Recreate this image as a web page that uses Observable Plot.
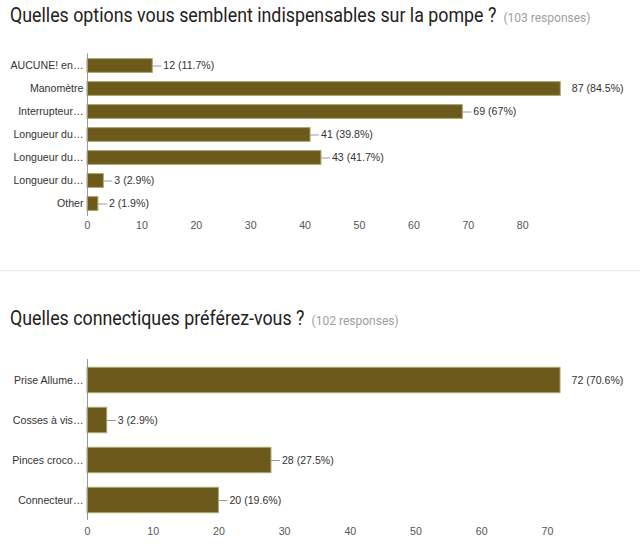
<!DOCTYPE html>
<html>
<head>
<meta charset="utf-8">
<script src="https://cdn.jsdelivr.net/npm/d3@7"></script>
<script src="https://cdn.jsdelivr.net/npm/@observablehq/plot@0.6"></script>
<style>
  html, body { margin: 0; padding: 0; background: #fff; }
  #page { position: relative; width: 640px; height: 544px; overflow: hidden; }
  .title { position: absolute; left: 10px; font-family: Roboto, "Noto Sans", sans-serif; font-size: 20px; color: #212121; white-space: nowrap; line-height: 24px; transform: scaleX(0.89); transform-origin: 0 0; }
  .title small { font-size: 13.5px; color: #9e9e9e; margin-left: 8px; }
  .sep { position: absolute; left: 0; width: 640px; top: 270px; height: 1px; background: #ececec; box-shadow: 0 1px 2px #f3f3f3; }
  .chart { position: absolute; left: 0; }
</style>
</head>
<body>
<div id="page">
  <div class="title" id="t1" style="top:3px">Quelles options vous semblent indispensables sur la pompe ?<small>(103 responses)</small></div>
  <div class="chart" id="c1" style="top:40px"></div>
  <div class="sep"></div>
  <div class="title" id="t2" style="top:306px">Quelles connectiques préférez-vous ?<small>(102 responses)</small></div>
  <div class="chart" id="c2" style="top:340px"></div>
</div>
<script>
// Chart 1 data
const cats1 = ["AUCUNE! en…", "Manomètre", "Interrupteur…", "Longueur du…", "Longueur du…", "Longueur du…", "Other"];
const counts1 = [12, 87, 69, 41, 43, 3, 2];
const pcts1 = ["11.7%", "84.5%", "67%", "39.8%", "41.7%", "2.9%", "1.9%"];
const ticks1 = [0, 10, 20, 30, 40, 50, 60, 70, 80];

// Chart 2 data
const cats2 = ["Prise Allume…", "Cosses à vis…", "Pinces croco…", "Connecteur…"];
const counts2 = [72, 3, 28, 20];
const pcts2 = ["70.6%", "2.9%", "27.5%", "19.6%"];
const ticks2 = [0, 10, 20, 30, 40, 50, 60, 70];

const FONT = "Arial, 'Liberation Sans', sans-serif";
const FS = 10.6;

function chart(cats, counts, pcts, ticks, o) {
  const data = cats.map((c, i) => ({i, c, v: counts[i], p: pcts[i]}));
  const max = d3.max(counts);
  const marginLeft = 87;
  const k = (640 - marginLeft - o.marginRight) / o.domainMax; // px per unit
  const others = data.filter(d => d.v !== max);
  const tops = data.filter(d => d.v === max);
  const label = d => `${d.v} (${d.p})`;
  return Plot.plot({
    width: 640,
    height: o.height,
    marginLeft,
    marginRight: o.marginRight,
    marginTop: o.marginTop,
    marginBottom: o.marginBottom,
    style: {fontFamily: FONT, fontSize: FS + "px", background: "transparent", overflow: "visible"},
    x: {domain: [0, o.domainMax]},
    y: {domain: d3.range(cats.length), padding: 0},
    marks: [
      Plot.barX(data, {x: "v", y: "i", fill: "#6b5a1c", stroke: "#b0a46a", strokeWidth: 1,
        insetTop: o.inset, insetBottom: o.inset}),
      Plot.ruleY(others, {y: "i", x1: "v", x2: d => d.v + 9 / k, stroke: "#999", strokeWidth: 1}),
      Plot.text(others, {x: "v", y: "i", text: label, textAnchor: "start", dx: 10.5, fill: "#333", fontSize: FS}),
      Plot.text(tops, {x: "v", y: "i", text: label, textAnchor: "start", dx: 11, fill: "#333", fontSize: FS}),
      Plot.ruleX([0], {stroke: "#9a9a9a", strokeWidth: 1}),
      Plot.axisX({ticks, tickSize: 0, tickPadding: o.tickPad, fill: "#555", fontSize: FS, label: null}),
      Plot.axisY({tickSize: 0, tickPadding: 4, tickFormat: i => cats[i], fill: "#333", fontSize: FS, label: null})
    ]
  });
}

document.getElementById("c1").append(chart(cats1, counts1, pcts1, ticks1, {
  height: 206, marginTop: 13.4, marginBottom: 30.1, marginRight: 9, domainMax: 100, inset: 4.6, tickPad: 5
}));
document.getElementById("c2").append(chart(cats2, counts2, pcts2, ticks2, {
  height: 200, marginTop: 19, marginBottom: 20, marginRight: 27.4, domainMax: 80, inset: 7.3, tickPad: 7
}));
</script>
</body>
</html>
